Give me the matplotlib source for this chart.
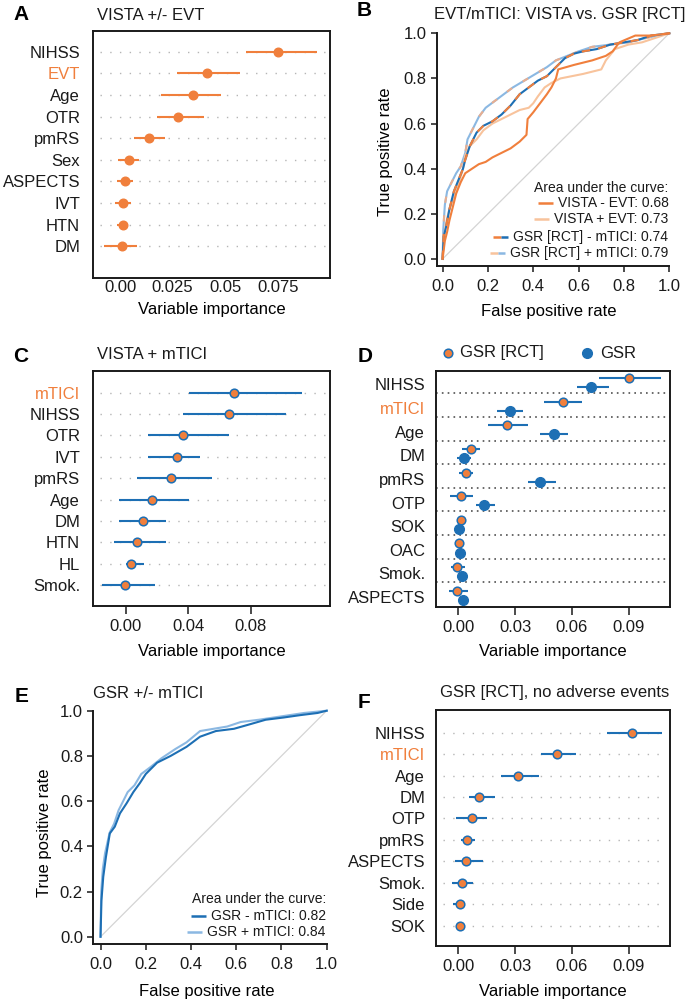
import matplotlib
matplotlib.use('Agg')
import matplotlib.pyplot as plt
from matplotlib.lines import Line2D

plt.rcParams['font.family'] = ['Liberation Sans', 'DejaVu Sans']
plt.rcParams['font.size'] = 12
plt.rcParams['text.color'] = '#1a1a1a'
plt.rcParams['xtick.color'] = '#1a1a1a'
plt.rcParams['ytick.color'] = '#1a1a1a'

# colours
orange = '#F07F3C'
light_orange = '#F8C39C'
blue = '#1D6FB4'
light_blue = '#8BB8E2'

# ---- data ----
# A: VISTA +/- EVT
a_labels = ['NIHSS', 'EVT', 'Age', 'OTR', 'pmRS', 'Sex', 'ASPECTS', 'IVT', 'HTN', 'DM']
a_imp = [0.0750, 0.0415, 0.0345, 0.0275, 0.0138, 0.0042, 0.0024, 0.0013, 0.0013, 0.0008]
a_lo = [0.0600, 0.0270, 0.0195, 0.0178, 0.0068, -0.0008, -0.0016, -0.0024, -0.0013, -0.0076]
a_hi = [0.0939, 0.0570, 0.0482, 0.0400, 0.0214, 0.0092, 0.0063, 0.0052, 0.0035, 0.0082]

# B: ROC, VISTA vs GSR [RCT]
b_vista_m_fpr = [0, 0.005, 0.01, 0.02, 0.03, 0.04, 0.05, 0.06, 0.08, 0.10, 0.13, 0.16, 0.19, 0.22, 0.26,
                 0.30, 0.34, 0.37, 0.375, 0.40, 0.43, 0.46, 0.48, 0.50, 0.51, 0.58, 0.66, 0.72, 0.75,
                 0.78, 0.85, 0.92, 1.0]
b_vista_m_tpr = [0, 0.04, 0.08, 0.12, 0.17, 0.21, 0.25, 0.29, 0.34, 0.38, 0.40, 0.42, 0.43, 0.45, 0.47,
                 0.49, 0.52, 0.55, 0.62, 0.65, 0.69, 0.73, 0.76, 0.80, 0.84, 0.86, 0.88, 0.90, 0.92,
                 0.96, 0.99, 0.99, 1.0]
b_vista_p_fpr = [0, 0.005, 0.015, 0.03, 0.05, 0.07, 0.09, 0.10, 0.12, 0.15, 0.18, 0.22, 0.26, 0.30, 0.34,
                 0.38, 0.40, 0.42, 0.45, 0.48, 0.52, 0.57, 0.62, 0.66, 0.70, 0.72, 0.76, 0.82, 0.88,
                 0.94, 1.0]
b_vista_p_tpr = [0, 0.08, 0.16, 0.22, 0.27, 0.33, 0.40, 0.46, 0.50, 0.53, 0.57, 0.60, 0.62, 0.64, 0.66,
                 0.67, 0.69, 0.72, 0.76, 0.78, 0.80, 0.81, 0.82, 0.83, 0.84, 0.88, 0.93, 0.95, 0.96,
                 0.98, 1.0]
b_gsr_m_fpr = [0, 0.005, 0.015, 0.03, 0.05, 0.07, 0.09, 0.10, 0.12, 0.15, 0.18, 0.22, 0.26, 0.30, 0.34,
               0.38, 0.42, 0.46, 0.50, 0.54, 0.58, 0.62, 0.68, 0.74, 0.80, 0.86, 0.92, 1.0]
b_gsr_m_tpr = [0, 0.10, 0.14, 0.22, 0.30, 0.35, 0.40, 0.44, 0.50, 0.56, 0.59, 0.61, 0.64, 0.68, 0.73,
               0.76, 0.79, 0.81, 0.85, 0.89, 0.91, 0.92, 0.93, 0.95, 0.96, 0.97, 0.99, 1.0]
b_gsr_p_fpr = [0, 0.003, 0.01, 0.02, 0.04, 0.06, 0.08, 0.10, 0.11, 0.13, 0.16, 0.19, 0.23, 0.27, 0.31,
               0.36, 0.41, 0.46, 0.50, 0.55, 0.60, 0.66, 0.74, 0.82, 0.90, 0.95, 1.0]
b_gsr_p_tpr = [0, 0.13, 0.24, 0.30, 0.34, 0.38, 0.41, 0.47, 0.53, 0.57, 0.63, 0.67, 0.70, 0.73, 0.76,
               0.79, 0.82, 0.85, 0.88, 0.90, 0.92, 0.94, 0.95, 0.96, 0.98, 0.99, 1.0]
b_auc_labels = ['VISTA - EVT: 0.68', 'VISTA + EVT: 0.73', 'GSR [RCT] - mTICI: 0.74', 'GSR [RCT] + mTICI: 0.79']

# C: VISTA + mTICI
c_labels = ['mTICI', 'NIHSS', 'OTR', 'IVT', 'pmRS', 'Age', 'DM', 'HTN', 'HL', 'Smok.']
c_imp = [0.0695, 0.0659, 0.0365, 0.0329, 0.0292, 0.0166, 0.0109, 0.0070, 0.0036, -0.0002]
c_lo = [0.0407, 0.0365, 0.0145, 0.0145, 0.0070, -0.0040, -0.0040, -0.0073, 0.0000, -0.0154]
c_hi = [0.1130, 0.1024, 0.0663, 0.0476, 0.0553, 0.0405, 0.0256, 0.0256, 0.0117, 0.0186]

# D: GSR [RCT] vs GSR
d_labels = ['NIHSS', 'mTICI', 'Age', 'DM', 'pmRS', 'OTP', 'SOK', 'OAC', 'Smok.', 'ASPECTS']
d_rct_imp = [0.0900, 0.0551, 0.0255, 0.0070, 0.0040, 0.0016, 0.0012, 0.0002, -0.0005, -0.0007]
d_rct_lo = [0.0745, 0.0453, 0.0159, 0.0018, 0.0005, -0.0044, 0.0000, -0.0012, -0.0040, -0.0051]
d_rct_hi = [0.1069, 0.0653, 0.0370, 0.0114, 0.0076, 0.0076, 0.0023, 0.0016, 0.0037, 0.0053]
d_gsr_imp = [0.0703, 0.0275, 0.0504, 0.0030, 0.0433, 0.0137, 0.0005, 0.0009, 0.0021, 0.0023]
d_gsr_lo = [0.0625, 0.0203, 0.0431, -0.0005, 0.0370, 0.0093, -0.0009, -0.0005, 0.0002, 0.0002]
d_gsr_hi = [0.0798, 0.0343, 0.0578, 0.0065, 0.0514, 0.0194, 0.0019, 0.0023, 0.0044, 0.0048]

# E: ROC, GSR +/- mTICI
e_minus_fpr = [0, 0.004, 0.012, 0.024, 0.041, 0.063, 0.086, 0.115, 0.145, 0.174, 0.20, 0.25, 0.31, 0.38,
               0.44, 0.51, 0.59, 0.65, 0.73, 0.81, 0.88, 0.96, 1.0]
e_minus_tpr = [0, 0.16, 0.265, 0.354, 0.457, 0.487, 0.546, 0.59, 0.64, 0.68, 0.72, 0.77, 0.80, 0.84,
               0.885, 0.91, 0.92, 0.937, 0.96, 0.97, 0.98, 0.99, 1.0]
e_plus_fpr = [0, 0.003, 0.01, 0.02, 0.04, 0.06, 0.08, 0.10, 0.12, 0.15, 0.18, 0.22, 0.27, 0.33, 0.38,
              0.44, 0.50, 0.56, 0.62, 0.70, 0.80, 0.90, 1.0]
e_plus_tpr = [0, 0.20, 0.30, 0.37, 0.46, 0.50, 0.56, 0.60, 0.64, 0.67, 0.72, 0.75, 0.79, 0.83, 0.86,
              0.91, 0.92, 0.93, 0.95, 0.96, 0.975, 0.99, 1.0]
e_auc_labels = ['GSR - mTICI: 0.82', 'GSR + mTICI: 0.84']

# F: GSR [RCT], no adverse events
f_labels = ['NIHSS', 'mTICI', 'Age', 'DM', 'OTP', 'pmRS', 'ASPECTS', 'Smok.', 'Side', 'SOK']
f_imp = [0.0919, 0.0521, 0.0315, 0.0111, 0.0074, 0.0044, 0.0040, 0.0019, 0.0009, 0.0009]
f_lo = [0.0783, 0.0437, 0.0224, 0.0058, -0.0012, 0.0012, -0.0018, -0.0032, -0.0026, -0.0005]
f_hi = [0.1074, 0.0620, 0.0424, 0.0194, 0.0150, 0.0088, 0.0129, 0.0079, 0.0035, 0.0023]

W, H = 685, 1002
fig = plt.figure(figsize=(W / 100, H / 100), dpi=100)


def add_ax(l, t, r, b):
    return fig.add_axes([l / W, 1 - b / H, (r - l) / W, (b - t) / H])


def fig_text(x, y, s, **kw):
    return fig.text(x / W, 1 - y / H, s, va='center', ha='left', **kw)


def box_style(ax, ypad, xtick_len, xpad):
    for sp in ax.spines.values():
        sp.set_linewidth(1.4)
        sp.set_color('#1a1a1a')
    ax.tick_params(axis='y', length=0, pad=ypad)
    ax.tick_params(axis='x', length=xtick_len, width=1.1, pad=xpad)


def color_labels(ax, names):
    for t in ax.get_yticklabels():
        if t.get_text() in names:
            t.set_color(orange)


def dot_panel(ax, labels, imp, lo, hi, face, line):
    n = len(labels)
    for i in range(n):
        ax.axhline(i, xmin=0.03, xmax=0.98, color='#b5b5b5', lw=1.0, ls=(0, (1, 6)), zorder=0)
    ax.hlines(range(n), lo, hi, color=line, lw=1.5, zorder=2)
    if face == line:
        ax.plot(imp, range(n), 'o', color=face, ms=6.2, zorder=3)
    else:
        ax.plot(imp, range(n), 'o', mfc=face, mec=line, mew=1.1, ms=6.2, zorder=3)
    ax.set_yticks(range(n))
    ax.set_yticklabels(labels)


# ---------- A ----------
ax = add_ax(92.7, 31, 330, 278.3)
dot_panel(ax, a_labels, a_imp, a_lo, a_hi, orange, orange)
ax.set_xlim(-0.0130, 0.0999)
ax.set_ylim(10.49, -0.96)
ax.set_xticks([0, 0.025, 0.05, 0.075])
ax.set_xticklabels(['0.00', '0.025', '0.05', '0.075'])
box_style(ax, 9, 0, 1.5)
color_labels(ax, ['EVT'])
ax.set_xlabel('Variable importance', va='center')
ax.xaxis.set_label_coords(0.5, -0.128)

# ---------- C ----------
ax = add_ax(92.7, 370.7, 330, 605.5)
dot_panel(ax, c_labels, c_imp, c_lo, c_hi, orange, blue)
ax.set_xlim(-0.0211, 0.1307)
ax.set_ylim(9.96, -1.03)
ax.set_xticks([0, 0.04, 0.08])
ax.set_xticklabels(['0.00', '0.04', '0.08'])
box_style(ax, 9, 5.5, 4)
color_labels(ax, ['mTICI'])
ax.set_xlabel('Variable importance', va='center')
ax.xaxis.set_label_coords(0.5, -0.197)

# ---------- D ----------
ax = add_ax(435.7, 370.7, 670, 606.7)
n = len(d_labels)
for k in range(n - 1):
    ax.axhline(k + 0.5, color='#505050', lw=1.2, ls=(0, (1, 2.5)), zorder=0)
y_rct = [k - 0.15 for k in range(n)]
y_gsr = [k + 0.24 for k in range(n)]
ax.hlines(y_rct, d_rct_lo, d_rct_hi, color=blue, lw=1.5, zorder=2)
ax.hlines(y_gsr, d_gsr_lo, d_gsr_hi, color=blue, lw=1.5, zorder=2)
ax.plot(d_rct_imp, y_rct, 'o', mfc=orange, mec=blue, mew=1.1, ms=6.2, zorder=3)
ax.plot(d_gsr_imp, y_gsr, 'o', color=blue, ms=7, zorder=3)
ax.set_yticks([k + 0.12 for k in range(n)])
ax.set_yticklabels(d_labels)
ax.set_xlim(-0.0119, 0.1118)
ax.set_ylim(9.53, -0.46)
ax.set_xticks([0, 0.03, 0.06, 0.09])
ax.set_xticklabels(['0.00', '0.03', '0.06', '0.09'])
box_style(ax, 7.7, 5.5, 4)
color_labels(ax, ['mTICI'])
ax.set_xlabel('Variable importance', va='center')
ax.xaxis.set_label_coords(0.5, -0.191)
# legend on top of D
fig.add_artist(Line2D([448 / W], [1 - 353 / H], transform=fig.transFigure, marker='o',
                      mfc=orange, mec=blue, mew=1.1, ms=6.2, ls='none'))
fig_text(460, 353, 'GSR [RCT]')
fig.add_artist(Line2D([587 / W], [1 - 353 / H], transform=fig.transFigure, marker='o',
                      color=blue, ms=7, ls='none'))
fig_text(600, 353, 'GSR')

# ---------- F ----------
ax = add_ax(435.7, 710, 670, 946)
dot_panel(ax, f_labels, f_imp, f_lo, f_hi, orange, blue)
ax.set_xlim(-0.0119, 0.1118)
ax.set_ylim(9.95, -1.06)
ax.set_xticks([0, 0.03, 0.06, 0.09])
ax.set_xticklabels(['0.00', '0.03', '0.06', '0.09'])
box_style(ax, 7.7, 5.5, 4)
color_labels(ax, ['mTICI'])
ax.set_xlabel('Variable importance', va='center')
ax.xaxis.set_label_coords(0.5, -0.194)


# ---------- ROC panels ----------
def roc_style(ax, lim):
    ax.set_xlim(lim, 1.0)
    ax.set_ylim(lim, 1.0)
    ax.spines['top'].set_visible(False)
    ax.spines['right'].set_visible(False)
    for s in ['left', 'bottom']:
        ax.spines[s].set_linewidth(1.4)
        ax.spines[s].set_color('#1a1a1a')
    ticks = [0, 0.2, 0.4, 0.6, 0.8, 1.0]
    ax.set_xticks(ticks)
    ax.set_yticks(ticks)
    ax.set_xticklabels(['%.1f' % t for t in ticks])
    ax.set_yticklabels(['%.1f' % t for t in ticks])
    ax.tick_params(length=4.5, width=1.1)
    ax.tick_params(axis='x', pad=5)
    ax.tick_params(axis='y', pad=3)
    ax.plot([0, 1], [0, 1], color='#d4d4d4', lw=0.9, zorder=1)
    ax.set_xlabel('False positive rate', va='center')
    ax.set_ylabel('True positive rate', va='center')


def auc_legend(ax, title, labels, colors, title_y, row_ys):
    ax.text(0.996, title_y, title, ha='right', va='center', fontsize=10)
    texts = [ax.text(0.996, y, s, ha='right', va='center', fontsize=10) for s, y in zip(labels, row_ys)]
    fig.canvas.draw()
    r = fig.canvas.get_renderer()
    inv = ax.transData.inverted()
    for t, cols, y in zip(texts, colors, row_ys):
        bb = t.get_window_extent(r)
        x_end = inv.transform((bb.x0 - 5, 0))[0]
        x_start = inv.transform((bb.x0 - 20, 0))[0]
        if len(cols) == 1:
            ax.plot([x_start, x_end], [y, y], color=cols[0], lw=1.8, solid_capstyle='butt')
        else:
            mid = (x_start + x_end) / 2
            ax.plot([x_start, mid], [y, y], color=cols[0], lw=1.8, solid_capstyle='butt')
            ax.plot([mid, x_end], [y, y], color=cols[1], lw=1.8, solid_capstyle='butt')


# B
ax = add_ax(436.7, 33.3, 669.3, 265.7)
roc_style(ax, -0.026)
ax.set_ylim(-0.03, 1.0)
ax.plot(b_gsr_p_fpr, b_gsr_p_tpr, color=light_blue, lw=1.5, clip_on=False, zorder=2)
ax.plot(b_gsr_p_fpr, b_gsr_p_tpr, color='#E8AE90', lw=1.5, ls=(0, (3, 6)), clip_on=False, zorder=2)
ax.plot(b_vista_p_fpr, b_vista_p_tpr, color=light_orange, lw=1.5, clip_on=False, zorder=3)
ax.plot(b_gsr_m_fpr, b_gsr_m_tpr, color=blue, lw=1.5, clip_on=False, zorder=4)
ax.plot(b_gsr_m_fpr, b_gsr_m_tpr, color=orange, lw=1.5, ls=(0, (4, 4)), clip_on=False, zorder=4)
ax.plot(b_vista_m_fpr, b_vista_m_tpr, color=orange, lw=1.5, clip_on=False, zorder=5)
ax.xaxis.set_label_coords(0.483, -0.198)
ax.yaxis.set_label_coords(-0.222, 0.489)
auc_legend(ax, 'Area under the curve:', b_auc_labels,
           [[orange], [light_orange], [orange, blue], [light_orange, light_blue]],
           0.315, [0.25, 0.175, 0.098, 0.025])

# E
ax = add_ax(93.3, 710.7, 326.7, 944)
roc_style(ax, -0.032)
ax.plot(e_plus_fpr, e_plus_tpr, color=light_blue, lw=1.5, clip_on=False, zorder=2)
ax.plot(e_minus_fpr, e_minus_tpr, color=blue, lw=1.5, clip_on=False, zorder=3)
ax.xaxis.set_label_coords(0.486, -0.204)
ax.yaxis.set_label_coords(-0.207, 0.478)
auc_legend(ax, 'Area under the curve:', e_auc_labels, [[blue], [light_blue]],
           0.165, [0.091, 0.022])

# titles
fig_text(97, 15, 'VISTA +/- EVT')
fig_text(434, 15, 'EVT/mTICI: VISTA vs. GSR [RCT]')
fig_text(97, 355, 'VISTA + mTICI')
fig_text(93, 693, 'GSR +/- mTICI')
fig_text(440, 693, 'GSR [RCT], no adverse events')

# panel letters
for letter, x, y in [('A', 13, 15), ('B', 357, 10), ('C', 13, 357), ('D', 358, 357),
                     ('E', 15, 697), ('F', 358, 702)]:
    fig_text(x, y, letter, fontsize=15, fontweight='bold', color='black')

fig.savefig('out.png', dpi=100)
